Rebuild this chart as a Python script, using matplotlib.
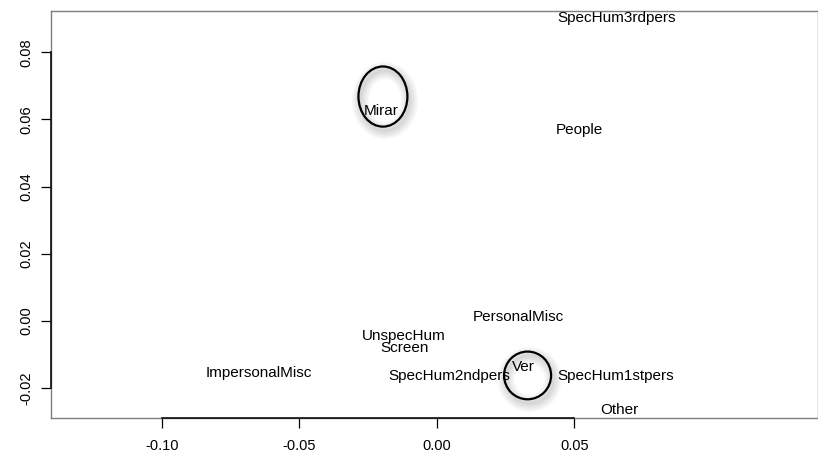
import matplotlib
matplotlib.use("Agg")
import matplotlib.pyplot as plt
from matplotlib.patches import Ellipse
import matplotlib.transforms as mtransforms

# ---- data ----
labels = ["SpecHum3rdpers", "People", "Mirar", "PersonalMisc", "UnspecHum",
          "Screen", "Ver", "ImpersonalMisc", "SpecHum2ndpers",
          "SpecHum1stpers", "Other"]
x_vals = [0.0655, 0.0517, -0.0203, 0.0295, -0.0119,
          -0.0119, 0.0315, -0.0646, 0.0046, 0.0652, 0.0663]
y_vals = [0.0901, 0.0568, 0.0625, 0.0011, -0.0044,
          -0.0081, -0.0136, -0.0156, -0.0164, -0.0164, -0.0265]

# highlighted groups (ellipses)
hl_x = [-0.0196, 0.0330]
hl_y = [0.0668, -0.0162]
hl_w = [0.0178, 0.0171]
hl_h = [0.0179, 0.0142]

x_ticks = [-0.10, -0.05, 0.00, 0.05]
y_ticks = [-0.02, 0.00, 0.02, 0.04, 0.06, 0.08]
x_ticklabels = ["-0.10", "-0.05", "0.00", "0.05"]
y_ticklabels = ["-0.02", "0.00", "0.02", "0.04", "0.06", "0.08"]
x_lim = (-0.1403, 0.1385)
y_lim = (-0.02878, 0.09226)

plt.rcParams['font.family'] = ['Liberation Sans', 'DejaVu Sans']

fig = plt.figure(figsize=(8.18, 4.54), dpi=100)
ax = fig.add_axes([51/818, (454-417.7)/454, (817.7-51)/818, (417.7-11)/454])
ax.set_xlim(*x_lim)
ax.set_ylim(*y_lim)

for s in ax.spines.values():
    s.set_color("#7f7f7f")
    s.set_linewidth(1.0)

ax.set_xticks(x_ticks)
ax.set_xticklabels(x_ticklabels)
ax.set_yticks(y_ticks)
ax.set_yticklabels(y_ticklabels, rotation=90, va="center")
ax.tick_params(axis="x", length=7, width=0.9, pad=8, labelsize=10.5, color="black")
ax.tick_params(axis="y", length=7, width=0.9, pad=6, labelsize=10.5, color="black")

# black axis lines over tick range (R style)
ax.plot([x_ticks[0], x_ticks[-1]], [y_lim[0], y_lim[0]], color="black", lw=1.1,
        clip_on=False, zorder=5)
ax.plot([x_lim[0], x_lim[0]], [y_ticks[0], y_ticks[-1]], color="black", lw=1.1,
        clip_on=False, zorder=5)

# ellipses with soft shadow
for cx, cy, w, h in zip(hl_x, hl_y, hl_w, hl_h):
    for i in range(8):
        off = mtransforms.ScaledTranslation(2/100, -4/100, fig.dpi_scale_trans)
        e = Ellipse((cx, cy), w, h, fill=False, edgecolor="black",
                    lw=1.5 + i * 1.6, alpha=0.018,
                    transform=ax.transData + off, zorder=1)
        ax.add_patch(e)
    ax.add_patch(Ellipse((cx, cy), w, h, fill=False, edgecolor="black",
                         lw=1.6, zorder=3))

for lab, x, y in zip(labels, x_vals, y_vals):
    ax.text(x, y, lab, ha="center", va="center", fontsize=11, zorder=4)

fig.savefig("out.png", dpi=100)
